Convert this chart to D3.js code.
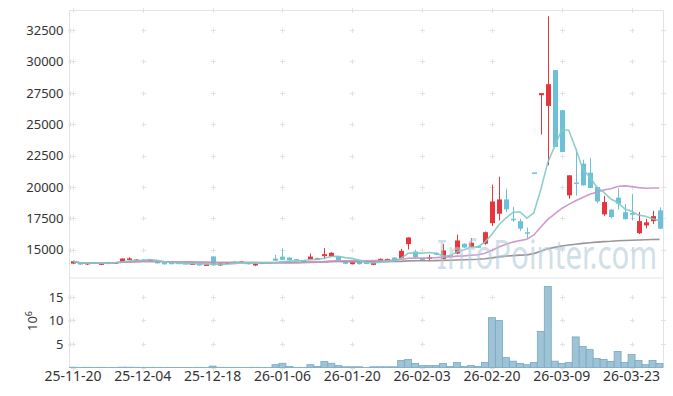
<html>
<head>
<meta charset="utf-8">
<script src="https://d3js.org/d3.v7.min.js"></script>
<style>
body { margin: 0; background: #fff; }
svg text { font-family: "Noto Sans", sans-serif; }
</style>
</head>
<body>
<svg id="chart" width="673" height="396"></svg>
<script>

var dates = ["25-11-20","25-11-21","25-11-24","25-11-25","25-11-26","25-11-27","25-11-28","25-12-01","25-12-02","25-12-03",
  "25-12-04","25-12-05","25-12-08","25-12-09","25-12-10","25-12-11","25-12-12","25-12-15","25-12-16","25-12-17",
  "25-12-18","25-12-19","25-12-22","25-12-23","25-12-24","25-12-26","25-12-29","25-12-30","26-01-02","26-01-05",
  "26-01-06","26-01-07","26-01-08","26-01-09","26-01-12","26-01-13","26-01-14","26-01-15","26-01-16","26-01-19",
  "26-01-20","26-01-21","26-01-22","26-01-23","26-01-26","26-01-27","26-01-28","26-01-29","26-01-30","26-02-02",
  "26-02-03","26-02-04","26-02-05","26-02-06","26-02-09","26-02-10","26-02-11","26-02-12","26-02-13","26-02-19",
  "26-02-20","26-02-23","26-02-24","26-02-25","26-02-26","26-02-27","26-03-03","26-03-04","26-03-05","26-03-06",
  "26-03-09","26-03-10","26-03-11","26-03-12","26-03-13","26-03-16","26-03-17","26-03-18","26-03-19","26-03-20",
  "26-03-23","26-03-24","26-03-25","26-03-26","26-03-27"]

var opens = [13900,13990,13830,13990,13800,13960,13970,13980,14290,14150,
  14200,14060,14100,13960,13990,13970,13950,13890,13990,13820,
  14470,13750,13900,14050,14040,13990,13750,13900,13930,14300,
  14450,14380,14250,14150,14230,14300,14490,14460,14490,14000,
  13850,14010,13980,13800,14070,14120,14380,14330,15450,14860,
  14330,14380,14760,14270,14430,14700,15480,15210,15290,15480,
  17120,17870,19010,17470,17280,16400,21160,27310,26460,29310,
  26120,19330,20350,21860,21140,20000,17820,18190,19150,18000,
  17920,16320,16940,17280,18140]

var highs = [14120,14020,14000,14010,13990,14040,14020,14320,14400,14260,
  14260,14230,14140,13990,14010,14000,13990,13960,14010,13880,
  14480,13940,14000,14080,14090,14010,13920,14000,14000,14600,
  15100,14400,14280,14180,14700,14350,15130,14800,14500,14050,
  14030,14030,14000,14020,14300,14290,14400,15080,15990,15000,
  14350,14600,14780,15450,14600,16200,15520,15930,15310,16450,
  20190,20820,19860,18420,17470,16770,21160,27480,33600,29310,
  26120,20930,23000,22180,22300,20010,19300,18250,19900,18650,
  19450,18000,17460,18100,18380]

var lows = [13850,13800,13780,13860,13780,13920,13940,13960,14150,14120,
  14080,14040,13900,13820,13840,13900,13920,13870,13740,13780,
  13740,13720,13880,13970,14000,13830,13700,13870,13900,14100,
  14180,14150,14050,14080,14200,14250,14250,14440,14150,13850,
  13830,13830,13900,13780,14050,14100,14150,14300,15020,14280,
  14120,14100,14580,14250,14400,14650,15150,15190,15140,15400,
  16900,17340,18000,17220,16500,15880,21160,24180,21730,23190,
  22790,19070,19300,20100,19900,18700,17700,17500,18200,17400,
  17350,16250,16700,17060,16650]

var closes = [14090,13820,13990,13890,13970,13980,13990,14300,14310,14220,
  14100,14210,13920,13850,13850,13920,13950,13910,13750,13830,
  13760,13910,13990,13990,14060,13840,13900,13980,13990,14130,
  14200,14170,14100,14120,14460,14310,14650,14760,14170,13980,
  14010,13850,13930,14010,14280,14270,14170,14920,15980,14410,
  14170,14400,14600,14950,14550,15740,15180,15560,15160,16400,
  18850,19010,18220,17390,16680,16280,21160,27480,28190,23190,
  22790,20930,20240,20130,19920,18850,18800,17600,18670,17440,
  17790,17280,17180,17680,16680]

// volume in millions of shares
var volume = [0.05,0.03,0.04,0.03,0.04,0.02,0.02,0.08,0.06,0.04,
  0.03,0.04,0.03,0.03,0.02,0.02,0.02,0.02,0.04,0.02,
  0.3,0.04,0.03,0.03,0.02,0.03,0.04,0.03,0.03,0.6,
  0.9,0.2,0.03,0.03,0.6,0.2,1.3,0.9,0.4,0.15,
  0.15,0.15,0.02,0.15,0.15,0.15,0.15,1.5,1.7,0.85,
  0.4,0.4,0.4,0.85,0.2,1.06,0.2,0.4,0.2,1.06,
  10.6,10.0,2.1,1.35,0.85,0.6,1.06,7.65,17.2,1.35,
  0.85,1.06,6.5,4.45,3.8,1.9,1.7,1.3,3.4,1.06,
  2.75,1.5,0.6,1.5,0.85]

var xTicks = ["25-11-20","25-12-04","25-12-18","26-01-06","26-01-20","26-02-03","26-02-20","26-03-09","26-03-23"]
var priceTicks = [15000,17500,20000,22500,25000,27500,30000,32500]
var volTicks = [5,10,15]
var maSpans = [120, 20, 5]
var maColors = ["#8c8c8c", "#c891c6", "#7fcbc3"]

var svg = d3.select("#chart"),
    left = 69.5, right = 663,
    pTop = 10, pBottom = 277.5,
    vTop = 280, vBottom = 367.5

var x = d3.scaleBand().domain(dates).range([left, right])
var cx = d => x(d) + x.bandwidth() / 2

var y = d3.scaleLinear().domain([12790, 34100]).range([pBottom, pTop])
var yv = d3.scaleLinear().domain([0, 18.6]).range([vBottom, vTop])

var data = dates.map((d, i) => ({date: d, o: opens[i], h: highs[i], l: lows[i], c: closes[i], v: volume[i]}))

// frame
var frame = svg.append("g").attr("stroke", "#e4e4e4").attr("fill", "none")
frame.append("path").attr("d", `M${left},${pTop + 0.5}H${right + 0.5}V${vBottom}M${left},${pTop}V${vBottom}H${right + 0.5}M${left},${pBottom + 0.5}H${right}`)

// grid crosses
function cross(g, px, py) {
  g.append("path")
    .attr("d", `M${Math.round(px) - 2},${Math.round(py) + 0.5}h5M${Math.round(px) + 0.5},${Math.round(py) - 2}v5`)
}
var grid = svg.append("g").attr("stroke", "#e2e2e2").attr("fill", "none")
var gx = xTicks.map(cx).concat([left, right])
gx.forEach(px => {
  priceTicks.forEach(v => cross(grid, px, y(v)))
  volTicks.forEach(v => cross(grid, px, yv(v)))
})
xTicks.forEach(d => { cross(grid, cx(d), vBottom); cross(grid, cx(d), pTop) })

// volume bars
svg.append("g").selectAll("rect")
  .data(data)
  .enter().append("rect")
    .attr("x", d => x(d.date))
    .attr("y", d => yv(d.v))
    .attr("width", x.bandwidth())
    .attr("height", d => vBottom - yv(d.v))
    .attr("fill", "#9ec3d5")
    .attr("stroke", "#78a8c6")
    .attr("stroke-width", 0.8)

var up = "#e8343c", down = "#6cc1d8"
var color = d => d.c > d.o ? up : down

// candles
var candles = svg.append("g")
candles.selectAll("line")
  .data(data)
  .enter().append("line")
    .attr("x1", d => Math.round(cx(d.date)) + 0.5)
    .attr("x2", d => Math.round(cx(d.date)) + 0.5)
    .attr("y1", d => y(d.h))
    .attr("y2", d => y(d.l))
    .attr("stroke", color)

candles.selectAll("rect")
  .data(data)
  .enter().append("rect")
    .attr("x", d => Math.round(cx(d.date)) - 2)
    .attr("y", d => y(Math.max(d.o, d.c)))
    .attr("width", 5)
    .attr("height", d => Math.max(1.5, Math.abs(y(d.o) - y(d.c))))
    .attr("fill", color)

// moving averages (window shortened where the data starts)
maSpans.forEach((n, k) => {
  var ma = closes.map((c, i) => d3.mean(closes.slice(Math.max(0, i - n + 1), i + 1)))
  svg.append("path")
    .datum(ma)
    .attr("fill", "none")
    .attr("stroke", maColors[k])
    .attr("stroke-width", 1.6)
    .attr("opacity", 0.9)
    .attr("d", d3.line().x((m, i) => cx(dates[i])).y(m => y(m)))
})

// watermark
svg.append("text")
  .attr("x", 437).attr("y", 269)
  .attr("textLength", 220).attr("lengthAdjust", "spacingAndGlyphs")
  .attr("font-size", 40)
  .attr("fill", "#b3cadb")
  .attr("opacity", 0.6)
  .text("InfoPointer.com")

// axes
var fmt = d3.format("d")
var yAxis = svg.append("g")
  .attr("transform", `translate(${left},0)`)
  .call(d3.axisLeft(y).tickValues(priceTicks).tickFormat(fmt).tickSize(0).tickPadding(6))
var vAxis = svg.append("g")
  .attr("transform", `translate(${left},0)`)
  .call(d3.axisLeft(yv).tickValues(volTicks).tickFormat(fmt).tickSize(0).tickPadding(6))
var xAxis = svg.append("g")
  .attr("transform", `translate(0,${vBottom})`)
  .call(d3.axisBottom(x).tickValues(xTicks).tickSize(0).tickPadding(4))

svg.selectAll(".domain").remove()
yAxis.selectAll("text").attr("font-size", 13).attr("fill", "#333").attr("font-family", "Noto Sans")
vAxis.selectAll("text").attr("font-size", 13).attr("fill", "#333").attr("font-family", "Noto Sans")
xAxis.selectAll("text").attr("font-size", 14).attr("fill", "#333").attr("font-family", "Noto Sans")

var unit = svg.append("text")
  .attr("transform", "translate(37,321) rotate(-90)")
  .attr("text-anchor", "middle")
  .attr("font-size", 13)
  .attr("fill", "#333")
unit.append("tspan").text("10")
unit.append("tspan").attr("dy", -5).attr("font-size", 9).text("6")

</script>
</body>
</html>
